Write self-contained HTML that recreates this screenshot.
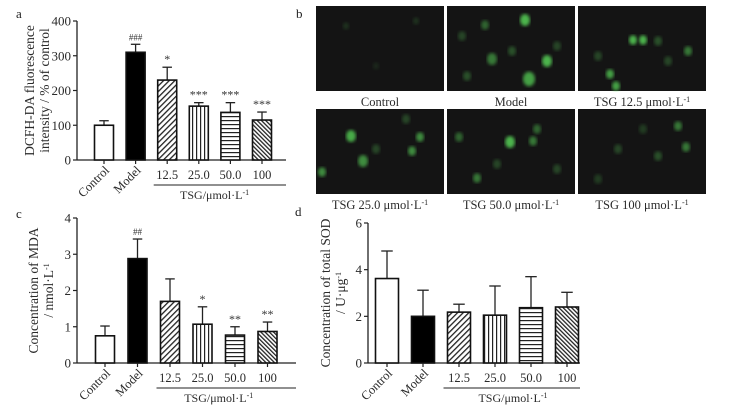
<!DOCTYPE html>
<html><head><meta charset="utf-8">
<style>
html,body{margin:0;padding:0;background:#fff;}
svg{display:block;font-family:"Liberation Serif",serif;}
</style></head>
<body>
<svg id="fig" width="734" height="413" viewBox="0 0 734 413">
<defs>
<pattern id="pDiag" patternUnits="userSpaceOnUse" width="4" height="4" patternTransform="rotate(45)"><rect width="4" height="4" fill="#fff"/><rect width="1.3" height="4" fill="#222"/></pattern>
<pattern id="pVert" patternUnits="userSpaceOnUse" width="4" height="4"><rect width="4" height="4" fill="#fff"/><rect width="1.2" height="4" fill="#222"/></pattern>
<pattern id="pHor" patternUnits="userSpaceOnUse" width="4" height="4"><rect width="4" height="4" fill="#fff"/><rect width="4" height="1.2" fill="#222"/></pattern>
<pattern id="pDiag2" patternUnits="userSpaceOnUse" width="3" height="3" patternTransform="rotate(-45)"><rect width="3" height="3" fill="#fff"/><rect width="1.3" height="3" fill="#222"/></pattern>
<filter id="blur"><feGaussianBlur stdDeviation="1.6"/></filter>
</defs>
<g id="root"></g>
</svg>
<script>
// ---- data ----
const categories = ["Control","Model","12.5","25.0","50.0","100"];
const aValues = [100,310,230,155,137,115];
const aErrors = [13,23,37,10,28,23];
const aMarks = ["","###","*","***","***","***"];
const aTicks = [0,100,200,300,400];
const cValues = [0.75,2.88,1.7,1.07,0.77,0.87];
const cErrors = [0.27,0.54,0.62,0.48,0.23,0.26];
const cMarks = ["","##","","*","**","**"];
const cTicks = [0,1,2,3,4];
const dValues = [3.62,2.0,2.18,2.05,2.37,2.4];
const dErrors = [1.18,1.12,0.34,1.25,1.33,0.63];
const dMarks = ["","","","","",""];
const dTicks = [0,2,4,6];
const fills = ["#fff","#000","url(#pDiag)","url(#pVert)","url(#pHor)","url(#pDiag2)"];

const NS="http://www.w3.org/2000/svg";
const root=document.getElementById('root');
function mk(tag,attrs,parent,text){const e=document.createElementNS(NS,tag);for(const k in attrs)e.setAttribute(k,attrs[k]);if(text!==undefined)e.textContent=text;(parent||root).appendChild(e);return e;}

function chart(cfg){
  const g=mk('g',{});
  
  
  const yMax=cfg.ticks[cfg.ticks.length-1];
  const y=v=>cfg.y0-(v/yMax)*(cfg.y0-cfg.yTop);
  const x=i=>cfg.x0+cfg.first+i*cfg.step;
  const ya=mk('line',{x1:cfg.x0,y1:cfg.yTop,x2:cfg.x0,y2:cfg.y0,stroke:'#222','stroke-width':1.3},g);
  
  const xa=mk('line',{x1:cfg.x0,y1:cfg.y0,x2:cfg.xEnd,y2:cfg.y0,stroke:'#222','stroke-width':1.3},g);
  
  cfg.ticks.forEach(t=>{
    mk('line',{x1:cfg.x0-4,y1:y(t),x2:cfg.x0,y2:y(t),stroke:'#222','stroke-width':1.2},g);
    const tl=mk('text',{x:cfg.x0-6,y:y(t)+4.5,'text-anchor':'end','font-size':13,fill:'#2a2a2a'},g,t);
    
  });
  categories.forEach((c,i)=>{
    const cx=x(i),v=cfg.values[i],e=cfg.errors[i];
    mk('line',{x1:cx,y1:y(v+e),x2:cx,y2:y(v),stroke:'#222','stroke-width':1.3},g);
    mk('line',{x1:cx-cfg.bw/4,y1:y(v+e),x2:cx+cfg.bw/4,y2:y(v+e),stroke:'#222','stroke-width':1.3},g);
    const b=mk('rect',{x:cx-cfg.bw/2,y:y(v),width:cfg.bw,height:cfg.y0-y(v),fill:fills[i],stroke:'#111','stroke-width':1.6},g);
    
    
    mk('line',{x1:cx,y1:cfg.y0,x2:cx,y2:cfg.y0+4,stroke:'#222','stroke-width':1.2},g);
    if(cfg.marks[i]){const m=mk('text',{x:cx,y:y(v+e)-4,'text-anchor':'middle','font-size':cfg.marks[i][0]==='#'?9:12,fill:'#333'},g,cfg.marks[i]);
      }
    let t;
    if(i<2){t=mk('text',{x:cx+6,y:cfg.y0+11,'text-anchor':'end','font-size':12.5,fill:'#2a2a2a',transform:`rotate(-45 ${cx+6} ${cfg.y0+11})`},g,c);}
    else{t=mk('text',{x:cx,y:cfg.y0+19,'text-anchor':'middle','font-size':12.5,fill:'#2a2a2a'},g,c);}
    
  });
  const gl=mk('line',{x1:x(2)-cfg.bw/2-4,y1:cfg.y0+25,x2:cfg.xEnd,y2:cfg.y0+25,stroke:'#222','stroke-width':1},g);
  
  const tsg=mk('text',{x:(x(2)+x(5))/2,y:cfg.y0+39,'text-anchor':'middle','font-size':12,fill:'#2a2a2a'},g);
  
  tsg.innerHTML='TSG/μmol·L<tspan dy="-4" font-size="8">-1</tspan>';
  const yt=mk('text',{transform:`translate(${cfg.ylx},${(cfg.yTop+cfg.y0)/2}) rotate(-90)`,'text-anchor':'middle','font-size':13.5,fill:'#2a2a2a'},g);
  
  yt.innerHTML=cfg.ylabel;
  const pl=mk('text',{x:cfg.lx,y:cfg.ly,'font-size':13,fill:'#222'},g,cfg.letter);
  
}
chart({name:'chart-a-dcfh',values:aValues,errors:aErrors,marks:aMarks,ticks:aTicks,x0:77,y0:160,yTop:21,xEnd:286,first:27,step:31.6,bw:19,ylx:34,
  ylabel:'<tspan x="0" dy="0">DCFH-DA fluorescence</tspan><tspan x="0" dy="15">intensity / % of control</tspan>',letter:'a',lx:16,ly:18});
chart({name:'chart-c-mda',values:cValues,errors:cErrors,marks:cMarks,ticks:cTicks,x0:77,y0:363,yTop:218,xEnd:296,first:28,step:32.5,bw:19,ylx:38,
  ylabel:'<tspan x="0" dy="0">Concentration of MDA</tspan><tspan x="0" dy="15">/ nmol·L<tspan dy="-4" font-size="8">-1</tspan></tspan>',letter:'c',lx:16,ly:218});
chart({name:'chart-d-sod',values:dValues,errors:dErrors,marks:dMarks,ticks:dTicks,x0:368,y0:363,yTop:223,xEnd:580,first:19,step:36,bw:23,ylx:330,
  ylabel:'<tspan x="0" dy="0">Concentration of total SOD</tspan><tspan x="0" dy="15">/ U·μg<tspan dy="-4" font-size="8">-1</tspan></tspan>',letter:'d',lx:295,ly:216});

const bl=mk('text',{x:296,y:18,'font-size':13,fill:'#222'},root,'b');

const imgs=[
 {x:316,y:6,lab:'Control',cells:[[30,20,3,.15],[100,15,3,.15],[60,60,3,.1]]},
 {x:447,y:6,lab:'Model',cells:[[78,14,5,.8],[100,55,5,.8],[82,73,6,.7],[45,53,5,.5],[38,19,4,.4],[20,70,4,.3],[65,45,4,.3],[110,40,4,.25],[15,30,4,.25]]},
 {x:578,y:6,lab:'TSG 12.5 μmol·L',cells:[[55,34,4,.8],[65,34,4,.8],[32,68,4,.7],[38,80,4,.7],[110,45,4,.5],[80,35,4,.3],[90,55,4,.25],[20,50,4,.25]]},
 {x:316,y:109,lab:'TSG 25.0 μmol·L',cells:[[35,27,5,.75],[47,52,5,.6],[104,28,4,.6],[96,42,4,.6],[6,63,4,.6],[60,40,4,.25],[90,10,4,.25]]},
 {x:447,y:109,lab:'TSG 50.0 μmol·L',cells:[[63,33,5,.8],[86,32,4,.5],[90,20,4,.4],[12,28,4,.4],[30,69,4,.5],[50,55,4,.25],[110,60,4,.25]]},
 {x:578,y:109,lab:'TSG 100 μmol·L',cells:[[100,17,4,.5],[108,38,4,.5],[80,47,4,.3],[40,40,4,.25],[20,70,4,.2],[65,20,4,.2]]}
];
imgs.forEach((im,k)=>{
  const g=mk('g',{});
  
  
  mk('rect',{x:im.x,y:im.y,width:128,height:85,fill:'#141414'},g);
  im.cells.forEach(c=>mk('ellipse',{cx:im.x+c[0],cy:im.y+c[1],rx:c[2],ry:c[2]*1.2,fill:`rgba(90,220,90,${c[3]})`,filter:'url(#blur)'},g));
  const t=mk('text',{x:im.x+64,y:im.y+100,'text-anchor':'middle','font-size':12.5,fill:'#2a2a2a'},g);
  
  
  t.innerHTML=im.lab+(k>1?'<tspan dy="-4" font-size="8">-1</tspan>':'');
});
</script>
</body></html>
